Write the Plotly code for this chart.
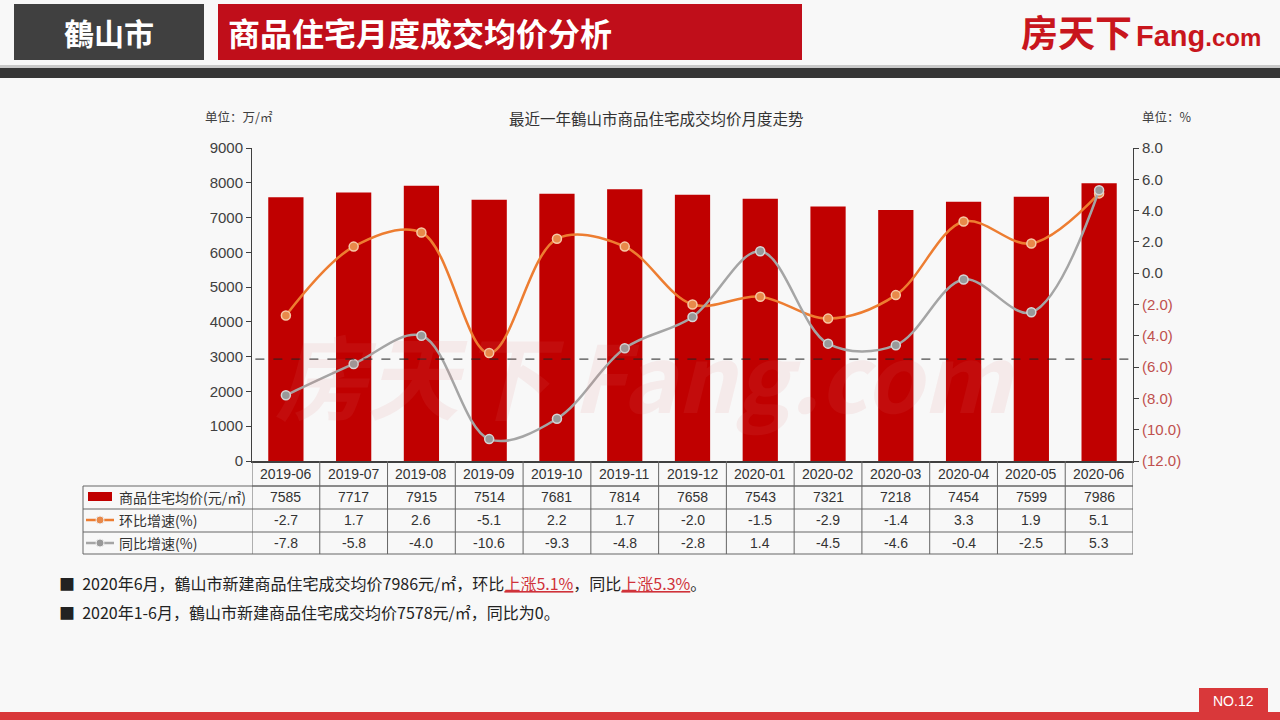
import plotly.graph_objects as go

# ---------------- data ----------------
months = ["2019-06", "2019-07", "2019-08", "2019-09", "2019-10", "2019-11", "2019-12",
          "2020-01", "2020-02", "2020-03", "2020-04", "2020-05", "2020-06"]
avg_price = [7585, 7717, 7915, 7514, 7681, 7814, 7658, 7543, 7321, 7218, 7454, 7599, 7986]
mom_growth = [-2.7, 1.7, 2.6, -5.1, 2.2, 1.7, -2.0, -1.5, -2.9, -1.4, 3.3, 1.9, 5.1]
yoy_growth = [-7.8, -5.8, -4.0, -10.6, -9.3, -4.8, -2.8, 1.4, -4.5, -4.6, -0.4, -2.5, 5.3]
left_ticks = [0, 1000, 2000, 3000, 4000, 5000, 6000, 7000, 8000, 9000]
right_ticks = [-12, -10, -8, -6, -4, -2, 0, 2, 4, 6, 8]
ref_line_value = 2930

series_names = ["商品住宅均价(元/㎡)", "环比增速(%)", "同比增速(%)"]
city = "鶴山市"
page_title = "商品住宅月度成交均价分析"
chart_title = "最近一年鶴山市商品住宅成交均价月度走势"

W, H = 1280, 720
def X(px): return px / W
def Y(py): return 1 - py / H

RED = "#C00000"
ORANGE = "#ED7D31"
GRAY = "#A5A5A5"
CJK = "Noto Sans CJK SC"
LAT = "Liberation Sans, Arial, sans-serif"
TXT = "#404040"

fig = go.Figure()

fig.add_trace(go.Bar(x=months, y=avg_price, marker=dict(color=RED, line=dict(width=0)),
                     width=0.52, name=series_names[0], yaxis="y"))
fig.add_trace(go.Scatter(x=months, y=mom_growth, mode="lines+markers", yaxis="y2",
                         name=series_names[1],
                         line=dict(color=ORANGE, width=2.5, shape="spline", smoothing=1.0),
                         marker=dict(size=9, color="#E8894A", line=dict(color="#F7C9A6", width=1.5))))
fig.add_trace(go.Scatter(x=months, y=yoy_growth, mode="lines+markers", yaxis="y2",
                         name=series_names[2],
                         line=dict(color=GRAY, width=2.5, shape="spline", smoothing=1.0),
                         marker=dict(size=9, color="#999999", line=dict(color="#D6D6D6", width=1.5))))

def rfmt(v):
    if v < 0:
        return f"<span style='color:#C0504D'>({abs(v):.1f})</span>"
    return f"{v:.1f}"

shapes = []
annotations = []

def ann(text, x, y, size, color="#333333", family=CJK, xanchor="center", xref="paper"):
    annotations.append(dict(text=text, x=x, y=y, xref=xref, yref="paper", xanchor=xanchor,
                            yanchor="middle", showarrow=False,
                            font=dict(family=family, size=size, color=color)))

# ---------- header ----------
shapes.append(dict(type="rect", xref="paper", yref="paper", x0=X(14), x1=X(204), y0=Y(60), y1=Y(4),
                   fillcolor="#404040", line=dict(width=0), layer="below"))
shapes.append(dict(type="rect", xref="paper", yref="paper", x0=X(218), x1=X(802), y0=Y(60), y1=Y(4),
                   fillcolor="#C00E1A", line=dict(width=0), layer="below"))
shapes.append(dict(type="rect", xref="paper", yref="paper", x0=0, x1=1, y0=Y(68), y1=Y(65),
                   fillcolor="#C9C9C9", line=dict(width=0), layer="below"))
shapes.append(dict(type="rect", xref="paper", yref="paper", x0=0, x1=1, y0=Y(78), y1=Y(68),
                   fillcolor="#363636", line=dict(width=0), layer="below"))
ann(f"<b>{city}</b>", X(109), Y(32), 30, "white")
ann(f"<b>{page_title}</b>", X(226), Y(32), 32, "white", xanchor="left")
ann("<b>房天下</b>", X(1134), Y(31), 37, "#C8161D", xanchor="right")
ann("<b>Fang</b><b><span style='font-size:24px'>.com</span></b>", X(1134), Y(36), 29, "#C8161D",
    family=LAT, xanchor="left")

# ---------- footer ----------
shapes.append(dict(type="rect", xref="paper", yref="paper", x0=0, x1=1, y0=0, y1=Y(712),
                   fillcolor="#D9383A", line=dict(width=0)))
shapes.append(dict(type="rect", xref="paper", yref="paper", x0=X(1199), x1=X(1268), y0=Y(713), y1=Y(688),
                   fillcolor="#D9383A", line=dict(width=0)))
ann("NO.12", X(1233), Y(701), 14, "white", family=LAT)

# ---------- watermark ----------
ann("<i><b>房天下 Fang.com</b></i>", X(645), Y(372), 92, "rgba(225,120,120,0.10)")

# ---------- chart labels ----------
ann("单位：万/㎡", X(203), Y(117), 12.5, TXT, xanchor="left")
ann("单位：%", X(1140), Y(117), 12.5, TXT, xanchor="left")
ann(chart_title, X(656), Y(118), 15.5, "#333333")

# reference dashed line
shapes.append(dict(type="line", xref="x", yref="y", x0=-0.45, x1=12.45, y0=ref_line_value, y1=ref_line_value,
                   line=dict(color="#222222", width=1, dash="dash")))

# ---------- data table ----------
row_y = [474, 497, 520, 543]
line_col = "#666666"
n = len(months)
shapes.append(dict(type="line", xref="paper", yref="paper", x0=X(252), x1=X(1133), y0=Y(486), y1=Y(486),
                   line=dict(color=line_col, width=1)))
for py in [486, 509, 532, 554]:
    shapes.append(dict(type="line", xref="paper", yref="paper", x0=X(83), x1=X(1133), y0=Y(py), y1=Y(py),
                       line=dict(color=line_col, width=1)))
shapes.append(dict(type="line", xref="paper", yref="paper", x0=X(83), x1=X(83), y0=Y(486), y1=Y(554),
                   line=dict(color=line_col, width=1)))
for i in range(n + 1):
    shapes.append(dict(type="line", xref="x", yref="paper", x0=i - 0.5, x1=i - 0.5, y0=Y(461), y1=Y(554),
                       line=dict(color=line_col, width=1)))

for i, m in enumerate(months):
    ann(m, m, Y(row_y[0]), 14, family=LAT, xref="x")
    ann(str(avg_price[i]), m, Y(row_y[1]), 14, family=LAT, xref="x")
    ann(f"{mom_growth[i]:.1f}", m, Y(row_y[2]), 14, family=LAT, xref="x")
    ann(f"{yoy_growth[i]:.1f}", m, Y(row_y[3]), 14, family=LAT, xref="x")

# legend glyphs in table
shapes.append(dict(type="rect", xref="paper", yref="paper", x0=X(88), x1=X(112), y0=Y(501), y1=Y(492),
                   fillcolor=RED, line=dict(width=0)))
for py, col, mcol in [(520, ORANGE, "#E8894A"), (543, GRAY, "#999999")]:
    shapes.append(dict(type="line", xref="paper", yref="paper", x0=X(86), x1=X(114), y0=Y(py), y1=Y(py),
                       line=dict(color=col, width=2.5)))
    shapes.append(dict(type="circle", xref="paper", yref="paper", x0=X(96), x1=X(104), y0=Y(py + 4), y1=Y(py - 4),
                       fillcolor=mcol, line=dict(color="#EEEEEE", width=1)))
for k, name in enumerate(series_names):
    ann(name, X(117), Y(row_y[k + 1]), 14, xanchor="left")

# ---------- bullet text ----------
t1 = ("■  2020年6月，鶴山市新建商品住宅成交均价7986元/㎡，环比"
      "<span style='color:#D0323A'><u>上涨5.1%</u></span>，同比"
      "<span style='color:#D0323A'><u>上涨5.3%</u></span>。")
t2 = "■  2020年1-6月，鶴山市新建商品住宅成交均价7578元/㎡，同比为0。"
ann(t1, X(57), Y(583), 16, "#222222", xanchor="left")
ann(t2, X(57), Y(612), 16, "#222222", xanchor="left")

fig.update_layout(
    width=W, height=H, autosize=False,
    margin=dict(l=0, r=0, t=0, b=0, pad=0, autoexpand=False),
    paper_bgcolor="#F8F8F8", plot_bgcolor="rgba(0,0,0,0)",
    showlegend=False,
    xaxis=dict(domain=[X(252), X(1133)], range=[-0.5, n - 0.5], type="category", automargin=False,
               showticklabels=False, ticks="", showline=True, linecolor="#404040", linewidth=1.5,
               showgrid=False, zeroline=False),
    yaxis=dict(domain=[Y(461), Y(148)], range=[0, 9000], tickvals=left_ticks, ticks="outside",
               automargin=False,
               ticklen=5, tickcolor="#404040", showline=True, linecolor="#404040", linewidth=1,
               showgrid=False, zeroline=False, tickfont=dict(family=LAT, size=15, color=TXT)),
    yaxis2=dict(domain=[Y(461), Y(148)], range=[-12, 8], overlaying="y", side="right", anchor="x",
                automargin=False,
                tickvals=right_ticks, ticktext=[rfmt(v) for v in right_ticks], ticks="outside",
                ticklen=5, tickcolor="#404040", showline=True, linecolor="#404040", linewidth=1,
                showgrid=False, zeroline=False, tickfont=dict(family=LAT, size=15, color=TXT)),
    shapes=shapes,
    annotations=annotations,
)

fig.write_html(
    "out.html",
    config={"displayModeBar": False},
    post_script=(
        "var s=document.documentElement.style, b=document.body.style;"
        "s.margin='0';s.padding='0';s.overflow='hidden';"
        "b.margin='0';b.padding='0';b.overflow='hidden';"
    ),
)
